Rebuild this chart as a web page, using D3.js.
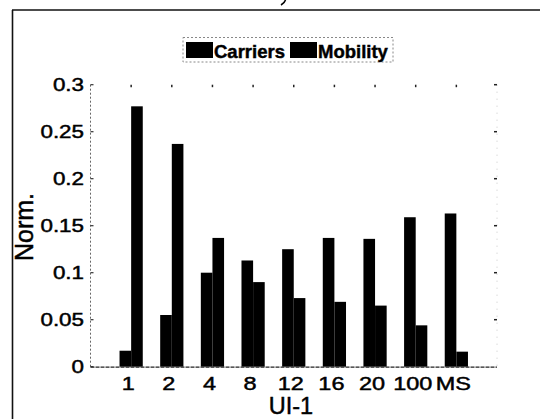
<!DOCTYPE html>
<html>
<head>
<meta charset="utf-8">
<script src="https://cdn.jsdelivr.net/npm/d3@7"></script>
<style>
  html, body { margin: 0; padding: 0; background: #fff; }
  svg { display: block; }
  text { font-family: "Liberation Sans", Arial, sans-serif; fill: #000; }
  .heavy { stroke: #000; stroke-width: 0.45px; }
</style>
</head>
<body>
<svg id="chart" width="540" height="419"></svg>
<script>
// Normalised carriers and mobility for each UI-1 setting
const categories = ["1", "2", "4", "8", "12", "16", "20", "100", "MS"];
const carriers   = [0.017, 0.055, 0.100, 0.113, 0.125, 0.137, 0.136, 0.159, 0.163];
const mobility   = [0.277, 0.237, 0.137, 0.090, 0.073, 0.069, 0.065, 0.044, 0.016];
const seriesNames = ["Carriers", "Mobility"];
const yTicks = [0, 0.05, 0.1, 0.15, 0.2, 0.25, 0.3];
const yTickLabels = ["0", "0.05", "0.1", "0.15", "0.2", "0.25", "0.3"];

const svg = d3.select("#chart");

const plot = { left: 90.5, right: 497, top: 84.7, bottom: 366.7 };

const x = d3.scalePoint().domain(categories).range([plot.left, plot.right]).padding(1);
const y = d3.scaleLinear().domain([0, 0.3]).range([plot.bottom, plot.top]);
const barW = x.step() * 0.2857;

// figure frame (top and left edges)
svg.append("line").attr("x1", 12).attr("x2", 540).attr("y1", 10).attr("y2", 10)
  .attr("stroke", "#111").attr("stroke-width", 1.6);
svg.append("line").attr("x1", 12.5).attr("x2", 12.5).attr("y1", 10).attr("y2", 419)
  .attr("stroke", "#111").attr("stroke-width", 1.6);

// small curved stroke above the frame (end of a bracket from the caption line)
svg.append("path").attr("d", "M285.5,0 Q284.5,3 281,5")
  .attr("fill", "none").attr("stroke", "#000").attr("stroke-width", 1.6);

// bars
const groups = svg.append("g").selectAll("g")
  .data(categories.map((c, i) => ({ c, vals: [carriers[i], mobility[i]] })))
  .join("g");
groups.selectAll("rect")
  .data(d => d.vals.map((v, k) => ({ c: d.c, v, k })))
  .join("rect")
  .attr("x", d => x(d.c) - barW + d.k * barW)
  .attr("width", barW)
  .attr("y", d => y(d.v))
  .attr("height", d => y(0) - y(d.v))
  .attr("fill", "#000");

// left axis line (dotted) and inward ticks
svg.append("line").attr("x1", plot.left).attr("x2", plot.left)
  .attr("y1", plot.top).attr("y2", plot.bottom)
  .attr("stroke", "#666").attr("stroke-width", 1).attr("stroke-dasharray", "2,2");
svg.append("g").selectAll("line").data(yTicks).join("line")
  .attr("x1", plot.left).attr("x2", plot.left + 3)
  .attr("y1", d => y(d)).attr("y2", d => y(d))
  .attr("stroke", "#333").attr("stroke-width", 1.2);

// right axis: faint line and ticks
svg.append("line").attr("x1", plot.right).attr("x2", plot.right)
  .attr("y1", plot.top).attr("y2", plot.bottom)
  .attr("stroke", "#bbb").attr("stroke-width", 0.8).attr("stroke-dasharray", "1,6");
svg.append("g").selectAll("line").data(yTicks.slice(1)).join("line")
  .attr("x1", plot.right - 3).attr("x2", plot.right)
  .attr("y1", d => y(d)).attr("y2", d => y(d))
  .attr("stroke", "#222").attr("stroke-width", 1.5);

// top axis ticks
svg.append("g").selectAll("line").data(categories).join("line")
  .attr("x1", d => x(d)).attr("x2", d => x(d))
  .attr("y1", plot.top).attr("y2", plot.top + 2.5)
  .attr("stroke", "#222").attr("stroke-width", 1.5);

// bottom axis line
svg.append("line").attr("x1", plot.left).attr("x2", plot.right)
  .attr("y1", plot.bottom + 0.5).attr("y2", plot.bottom + 0.5)
  .attr("stroke", "#222").attr("stroke-width", 1.3).attr("stroke-dasharray", "4,1");

// y tick labels
svg.append("g").selectAll("text").data(yTicks).join("text")
  .attr("class", "heavy")
  .attr("transform", d => `translate(84,${y(d) + 6.2}) scale(1.28,1)`)
  .attr("text-anchor", "end")
  .attr("font-size", 17.5)
  .text((d, i) => yTickLabels[i]);

// x tick labels
svg.append("g").selectAll("text").data(categories).join("text")
  .attr("class", "heavy")
  .attr("transform", d => `translate(${x(d) - 3},390) scale(1.34,1)`)
  .attr("text-anchor", "middle")
  .attr("font-size", 17.5)
  .text(d => d);

// axis titles
svg.append("text")
  .attr("class", "heavy")
  .attr("transform", "translate(291,414)")
  .attr("text-anchor", "middle")
  .attr("font-size", 23.5)
  .text("UI-1");
svg.append("text")
  .attr("class", "heavy")
  .attr("transform", "translate(33,227) rotate(-90)")
  .attr("text-anchor", "middle")
  .attr("font-size", 25)
  .text("Norm.");

// legend
const legend = svg.append("g");
legend.append("rect")
  .attr("x", 183).attr("y", 37.5).attr("width", 210).attr("height", 24.5)
  .attr("fill", "#fff").attr("stroke", "#888").attr("stroke-width", 1)
  .attr("stroke-dasharray", "2,2");
const legendX = [186, 290];
seriesNames.forEach((name, i) => {
  legend.append("rect")
    .attr("x", legendX[i]).attr("y", 42).attr("width", 27).attr("height", 16)
    .attr("fill", "#000");
  legend.append("text")
    .attr("class", "heavy")
    .attr("x", legendX[i] + 28).attr("y", 57.5)
    .attr("font-size", 18.5).attr("font-weight", "bold")
    .text(name);
});
</script>
</body>
</html>
